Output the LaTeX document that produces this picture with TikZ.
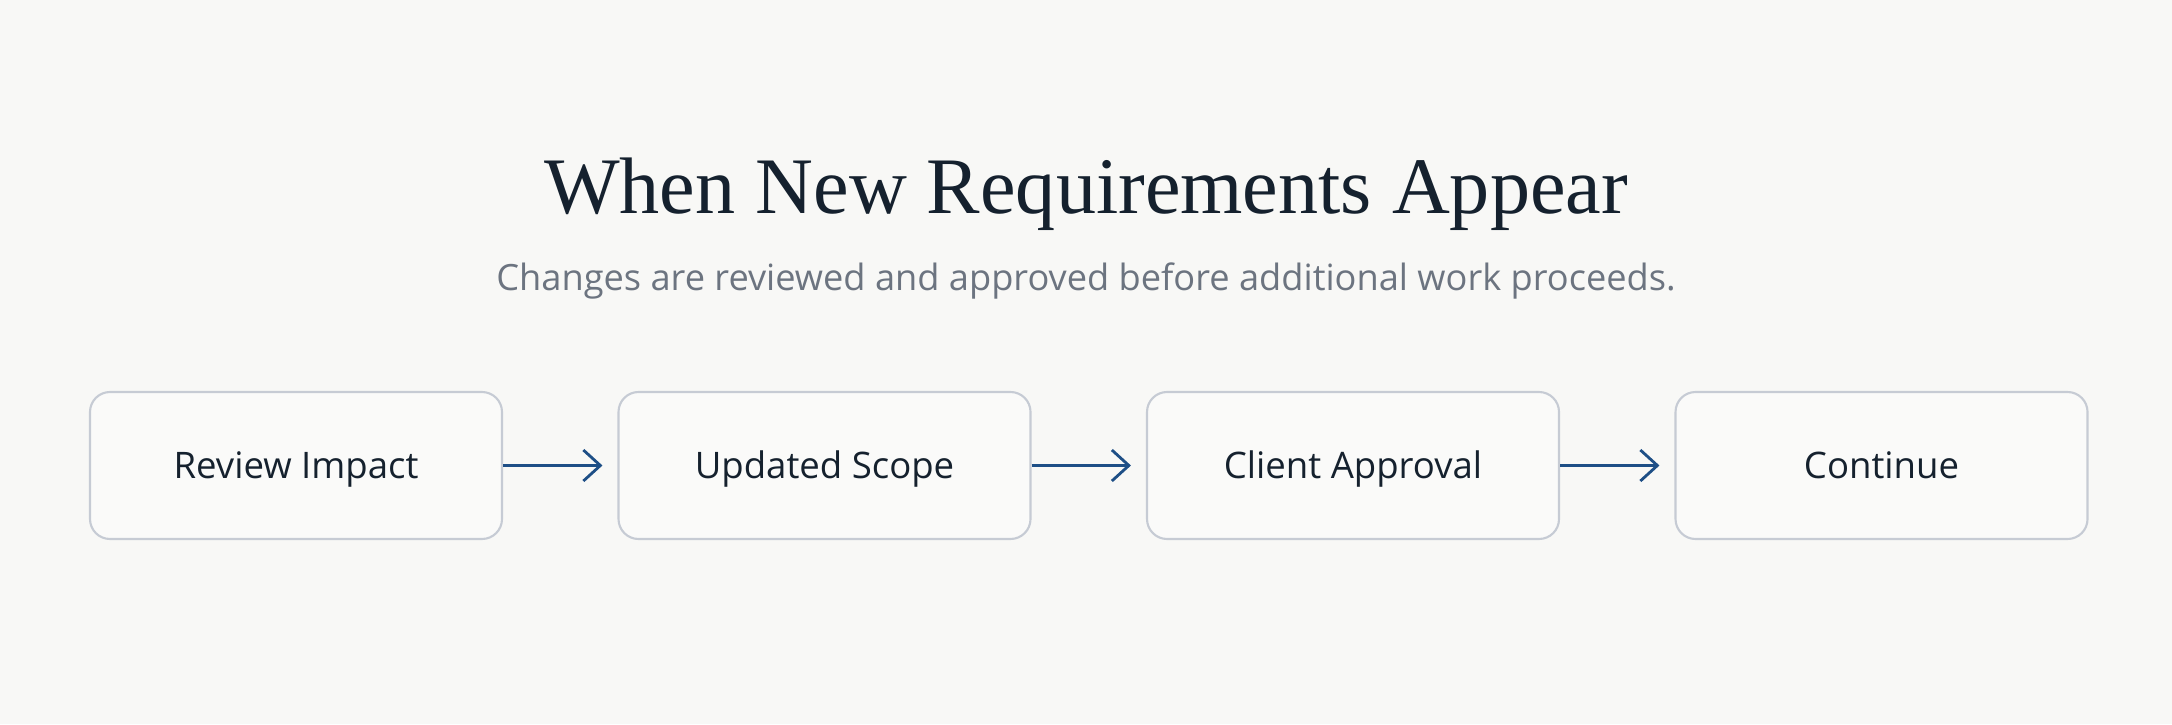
\documentclass[tikz,border=0pt]{standalone}
\usepackage{fontspec}
\setmainfont{Open Sans}
\newfontfamily\headfont{Liberation Serif}
\usetikzlibrary{arrows.meta}
\definecolor{paper}{HTML}{F8F8F6}
\definecolor{boxfill}{HTML}{FAFAF9}
\definecolor{boxline}{HTML}{C6CBD4}
\definecolor{ink}{HTML}{15212E}
\definecolor{subgray}{HTML}{6C7480}
\definecolor{flowblue}{HTML}{1E4F86}
\begin{document}
\begin{tikzpicture}[>={Straight Barb[length=1.7mm,width=3.1mm]},
	stepbox/.style={draw=boxline, line width=0.6pt, fill=boxfill, rounded corners=2mm,
		minimum width=4.12cm, minimum height=1.47cm, inner sep=0pt,
		text height=7.3pt, text depth=0pt,
		text=ink, font=\fontsize{10.4}{12}\selectfont},
	flow/.style={->, draw=flowblue, line width=0.8pt, shorten >=1.5mm}]
	\fill [paper] (0,0) rectangle (21.72,7.24);% background
	\useasboundingbox (0,0) rectangle (21.72,7.24);
	
	\node [anchor=base, text=ink, font=\headfont\fontsize{22.8}{26}\selectfont] (title) at (10.86,5.11) {When New Requirements Appear};
	\node [anchor=base, text=subgray, font=\fontsize{10.3}{12}\selectfont] (subtitle) at (10.86,4.34) {Changes are reviewed and approved before additional work proceeds.};
	
	\node [stepbox] (review) at (2.96,2.585) {Review Impact};
	\node [stepbox] (scope) at (8.245,2.585) {Updated Scope};
	\node [stepbox] (approval) at (13.53,2.585) {Client Approval};
	\node [stepbox] (continue) at (18.815,2.585) {Continue};
	
	\draw [flow] (review) -- (scope);
	\draw [flow] (scope) -- (approval);
	\draw [flow] (approval) -- (continue);
	
\end{tikzpicture}
\end{document}
